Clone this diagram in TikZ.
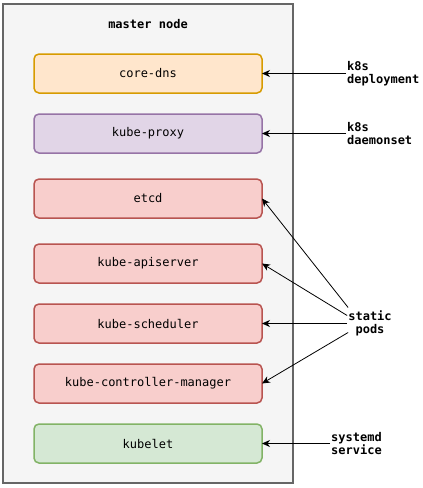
\documentclass[tikz,border=0pt]{standalone}
\usepackage{fontspec}
\setmonofont{DejaVu Sans Mono}
\usepackage{tikz}
\usetikzlibrary{arrows.meta,positioning}
\definecolor{framegray}{HTML}{666666}
\definecolor{framefill}{HTML}{F5F5F5}
\definecolor{dnsfill}{HTML}{FFE6CC}
\definecolor{dnsline}{HTML}{D79B00}
\definecolor{proxyfill}{HTML}{E1D5E7}
\definecolor{proxyline}{HTML}{9673A6}
\definecolor{podfill}{HTML}{F8CECC}
\definecolor{podline}{HTML}{B85450}
\definecolor{svcfill}{HTML}{D5E8D4}
\definecolor{svcline}{HTML}{82B366}

\begin{document}
\begin{tikzpicture}[
  x=1pt,y=-1pt,
  node distance=21pt,
  frame/.style={draw=framegray,fill=framefill,line width=1.8pt,
    minimum width=290pt,minimum height=479pt,inner sep=0pt},
  comp/.style={rounded corners=5pt,line width=1.5pt,minimum width=228pt,
    minimum height=39pt,inner sep=0pt,outer sep=0pt,
    font=\ttfamily\fontsize{12}{13}\selectfont},
  note/.style={font=\ttfamily\bfseries\fontsize{12}{13}\selectfont,inner sep=1pt},
  arrow/.style={-{Stealth[length=8pt,width=7pt,inset=2.5pt]},line width=0.8pt,color=black}
]
\useasboundingbox (0,0) rectangle (423,488);
\node[frame] (master) at (148,243.5) {};
\node[note] (title) at (148,24) {master node};
\node[comp,draw=dnsline,fill=dnsfill] (coredns) at (148,73.5) {core-dns};
\node[comp,draw=proxyline,fill=proxyfill,below=of coredns] (proxy) {kube-proxy};
\node[comp,draw=podline,fill=podfill,below=26pt of proxy] (etcd) {etcd};
\node[comp,draw=podline,fill=podfill,below=26pt of etcd] (apiserver) {kube-apiserver};
\node[comp,draw=podline,fill=podfill,below=of apiserver] (scheduler) {kube-scheduler};
\node[comp,draw=podline,fill=podfill,below=of scheduler] (ctrlmgr) {kube-controller-manager};
\node[comp,draw=svcline,fill=svcfill,below=of ctrlmgr] (kubelet) {kubelet};
% labels on the right
\node[note,align=left,anchor=west] (deploy) at (346,73.5) {k8s\\deployment};
\node[note,align=left,anchor=west] (daemon) at (346,133.5) {k8s\\daemonset};
\node[note,align=center] (static) at (370,323.5) {static\\pods};
\node[note,align=left,anchor=west] (systemd) at (330,443.5) {systemd\\service};
\draw[arrow] (deploy.west) -- (coredns.east);
\draw[arrow] (daemon.west) -- (proxy.east);
\draw[arrow] ([yshift=16pt,xshift=1pt]static.west) -- (etcd.east);
\draw[arrow] ([yshift=8pt]static.west) -- (apiserver.east);
\draw[arrow] (static.west) -- (scheduler.east);
\draw[arrow] ([yshift=-9pt,xshift=1pt]static.west) -- (ctrlmgr.east);
\draw[arrow] (systemd.west) -- (kubelet.east);
\end{tikzpicture}
\end{document}
